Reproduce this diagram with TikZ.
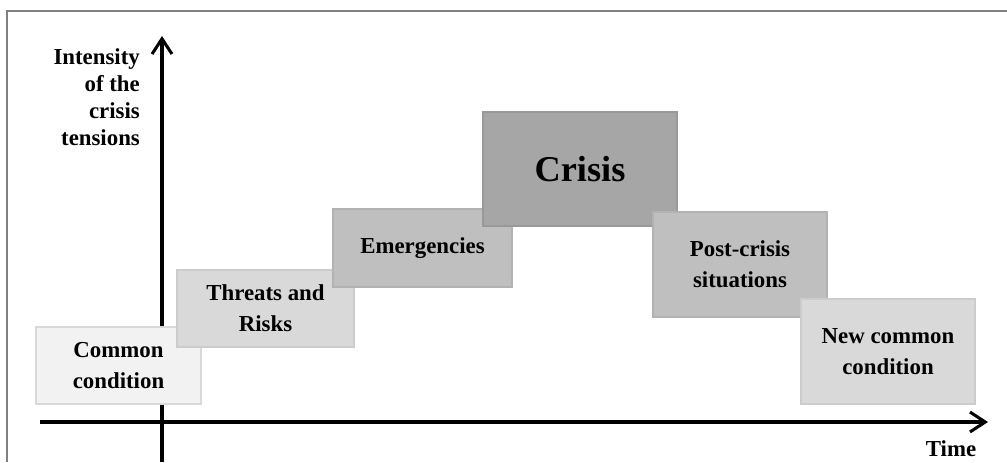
\documentclass[tikz,border=0pt]{standalone}
\usepackage{fontspec}
\setmainfont{Liberation Serif}
\usetikzlibrary{arrows.meta}

\definecolor{paleA}{HTML}{F2F2F2}
\definecolor{paleB}{HTML}{D9D9D9}
\definecolor{midC}{HTML}{BFBFBF}
\definecolor{darkD}{HTML}{A6A6A6}

\tikzset{
  axis/.style={line width=2.6pt, -{Straight Barb[length=13pt, width=17pt, line width=2.6pt]}},
  stage/.style={rectangle, line width=2pt, align=center, inner sep=0pt,
    font=\fontsize{19.5}{26.5}\selectfont\bfseries}
}

\begin{document}
\begin{tikzpicture}[x=0.03cm, y=-0.03cm]
			\useasboundingbox (0,0) rectangle (1007,462);
			\draw [line width=1.3pt, gray] (7,462) -- (7,11) -- (1007,11);

			% axes
			\coordinate (ybot) at (162,462);
			\coordinate (ytop) at (162,36);
			\coordinate (xleft) at (40,422);
			\coordinate (xright) at (988,422);
			\draw [axis] (ybot) -- (ytop);
			\draw [axis] (xleft) -- (xright);

			\node [align=right, anchor=east, font=\fontsize{19.5}{23}\selectfont\bfseries] (intensity) at (144,97) {Intensity\\of the\\crisis\\tensions};
			\node [font=\fontsize{19.5}{23}\selectfont\bfseries] (time) at (951,449) {Time};

			% stages
			\node [stage, fill=paleA, draw=paleB, minimum width=4.95cm, minimum height=2.31cm] (common) at (118.5,365.5) {Common\\condition};
			\node [stage, fill=paleB, draw=black!20, minimum width=5.31cm, minimum height=2.31cm] (threats) at (265.5,308.5) {Threats and\\Risks};
			\node [stage, fill=midC, draw=black!30, minimum width=5.37cm, minimum height=2.34cm] (emerg) at (422.5,248) {Emergencies};
			\node [stage, fill=darkD, draw=black!40, minimum width=5.82cm, minimum height=3.42cm, font=\fontsize{31}{37}\selectfont\bfseries] (crisis) at (580,169) {Crisis};
			\node [stage, fill=midC, draw=black!30, minimum width=5.22cm, minimum height=3.15cm] (post) at (740,264.5) {Post-crisis\\situations};
			\node [stage, fill=paleB, draw=black!20, minimum width=5.22cm, minimum height=3.15cm] (newcommon) at (888,351.5) {New common\\condition};
		\end{tikzpicture}
\end{document}
